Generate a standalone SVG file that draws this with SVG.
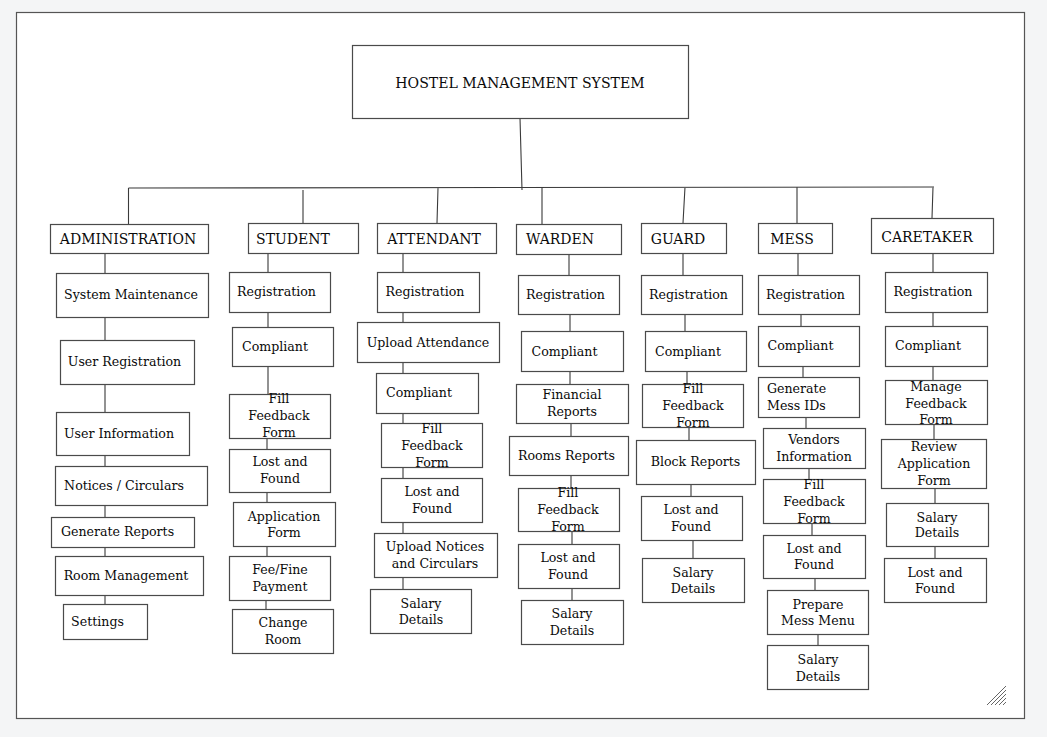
<svg xmlns="http://www.w3.org/2000/svg" width="1047" height="737" viewBox="0 0 1047 737">
<style>
.bx{fill:#fff;stroke:#4a4a4a;stroke-width:1.2}
.t{font-family:"DejaVu Serif","Liberation Serif",serif;font-size:12.6px;fill:#0a0a0a;text-anchor:middle}
.s{text-anchor:start}
.h{font-size:14px}
.ti{font-size:14.1px}
.ln{stroke:#3a3a3a;stroke-width:1.1;fill:none}
.hd{stroke:#666;stroke-width:1}
</style>
<rect x="0" y="0" width="1047" height="737" fill="#f4f5f6"/>
<rect x="16.5" y="12.5" width="1008" height="706" fill="#fff" stroke="#555" stroke-width="1.2"/>
<g id="connectors">
<path class="ln" d="M520 118 L522 190 M128.5 188 L934 187 M128.5 188 L128.5 224 M303 190 L303 223 M438 188 L437 223 M542 187 L542 224 M685 187 L683 223 M797 187 L797 223 M933 187 L932 218"/>
<path class="ln" d="M105 253 V273 M105 317 V340 M105 384 V412 M105 455 V466 M105 505 V517 M105 547 V556 M105 595 V604"/>
<path class="ln" d="M268 253 V272 M268 312 V327 M268 366 V394 M267 438 V449 M267 492 V502 M267 546 V556 M266 600 V609"/>
<path class="ln" d="M403 253 V272 M403 312 V322 M403 362 V373 M403 413 V423 M403 467 V478 M403 522 V533 M403 577 V589"/>
<path class="ln" d="M569 254 V275 M570 314 V331 M570 371 V384 M571 423 V436 M571 475 V488 M572 531 V544 M572 588 V600"/>
<path class="ln" d="M683 253 V275 M685 314 V331 M687 371 V384 M689 427 V440 M691 484 V496 M693 540 V558"/>
<path class="ln" d="M798 253 V275 M801 314 V326 M803 366 V377 M806 417 V428 M809 468 V479 M812 523 V535 M815 578 V590 M818 634 V645"/>
<path class="ln" d="M933 254 V272 M933 312 V326 M933 366 V380 M934 424 V439 M935 488 V503 M935 546 V558"/>
</g>
<g id="root"><rect class="bx" x="352.5" y="45.5" width="336" height="73"/><text class="t ti" x="520" y="88">HOSTEL MANAGEMENT SYSTEM</text></g>
<g id="administration"><rect class="bx" x="50.5" y="224.5" width="158" height="29"/><text class="t h" x="128" y="244">ADMINISTRATION</text></g>
<g id="student"><rect class="bx" x="248.5" y="223.5" width="110" height="30"/><text class="t h" x="293" y="244">STUDENT</text></g>
<g id="attendant"><rect class="bx" x="377.5" y="223.5" width="119" height="30"/><text class="t h" x="434" y="244">ATTENDANT</text></g>
<g id="warden"><rect class="bx" x="516.5" y="224.5" width="105" height="30"/><text class="t h" x="560" y="244">WARDEN</text></g>
<g id="guard"><rect class="bx" x="641.5" y="223.5" width="85" height="30"/><text class="t h" x="678" y="244">GUARD</text></g>
<g id="mess"><rect class="bx" x="758.5" y="223.5" width="74" height="30"/><text class="t h" x="792" y="244">MESS</text></g>
<g id="caretaker"><rect class="bx" x="871.5" y="218.5" width="122" height="35"/><text class="t h" x="927" y="242">CARETAKER</text></g>

<g id="adm-system-maintenance"><rect class="bx" x="56.5" y="273.5" width="152" height="44"/><text class="t" x="131" y="299">System Maintenance</text></g>
<g id="adm-user-registration"><rect class="bx" x="60.5" y="340.5" width="134" height="44"/><text class="t" x="124.5" y="366">User Registration</text></g>
<g id="adm-user-information"><rect class="bx" x="56.5" y="412.5" width="133" height="43"/><text class="t" x="119" y="438">User Information</text></g>
<g id="adm-notices"><rect class="bx" x="55.5" y="466.5" width="152" height="39"/><text class="t" x="124" y="490">Notices / Circulars</text></g>
<g id="adm-generate-reports"><rect class="bx" x="51.5" y="517.5" width="143" height="30"/><text class="t" x="117.5" y="536">Generate Reports</text></g>
<g id="adm-room-management"><rect class="bx" x="55.5" y="556.5" width="148" height="39"/><text class="t" x="126" y="580">Room Management</text></g>
<g id="adm-settings"><rect class="bx" x="63.5" y="604.5" width="84" height="35"/><text class="t" x="97.5" y="626">Settings</text></g>

<g id="stu-registration"><rect class="bx" x="229.5" y="272.5" width="101" height="40"/><text class="t" x="276.5" y="296">Registration</text></g>
<g id="stu-compliant"><rect class="bx" x="232.5" y="327.5" width="101" height="39"/><text class="t" x="275" y="351">Compliant</text></g>
<g id="stu-feedback"><rect class="bx" x="229.5" y="394.5" width="101" height="44"/><text class="t" x="279" y="403">Fill</text><text class="t" x="279" y="420">Feedback</text><text class="t" x="279" y="437">Form</text></g>
<g id="stu-lost-found"><rect class="bx" x="229.5" y="449.5" width="101" height="43"/><text class="t" x="280" y="466">Lost and</text><text class="t" x="280" y="483">Found</text></g>
<g id="stu-application"><rect class="bx" x="233.5" y="502.5" width="102" height="44"/><text class="t" x="284" y="521">Application</text><text class="t" x="284" y="537">Form</text></g>
<g id="stu-fee"><rect class="bx" x="229.5" y="556.5" width="101" height="44"/><text class="t" x="280" y="574">Fee/Fine</text><text class="t" x="280" y="591">Payment</text></g>
<g id="stu-change-room"><rect class="bx" x="232.5" y="609.5" width="101" height="44"/><text class="t" x="283" y="627">Change</text><text class="t" x="283" y="644">Room</text></g>

<g id="att-registration"><rect class="bx" x="377.5" y="272.5" width="102" height="40"/><text class="t" x="425" y="296">Registration</text></g>
<g id="att-upload-attendance"><rect class="bx" x="357.5" y="322.5" width="142" height="40"/><text class="t" x="428" y="347">Upload Attendance</text></g>
<g id="att-compliant"><rect class="bx" x="376.5" y="373.5" width="102" height="40"/><text class="t" x="419" y="397">Compliant</text></g>
<g id="att-feedback"><rect class="bx" x="381.5" y="423.5" width="101" height="44"/><text class="t" x="432" y="433">Fill</text><text class="t" x="432" y="450">Feedback</text><text class="t" x="432" y="467">Form</text></g>
<g id="att-lost-found"><rect class="bx" x="381.5" y="478.5" width="101" height="44"/><text class="t" x="432" y="496">Lost and</text><text class="t" x="432" y="513">Found</text></g>
<g id="att-upload-notices"><rect class="bx" x="374.5" y="533.5" width="123" height="44"/><text class="t" x="435" y="551">Upload Notices</text><text class="t" x="435" y="568">and Circulars</text></g>
<g id="att-salary"><rect class="bx" x="370.5" y="589.5" width="101" height="44"/><text class="t" x="421" y="608">Salary</text><text class="t" x="421" y="624">Details</text></g>

<g id="war-registration"><rect class="bx" x="518.5" y="275.5" width="101" height="39"/><text class="t" x="565.5" y="299">Registration</text></g>
<g id="war-compliant"><rect class="bx" x="521.5" y="331.5" width="102" height="40"/><text class="t" x="564.5" y="356">Compliant</text></g>
<g id="war-financial"><rect class="bx" x="516.5" y="384.5" width="112" height="39"/><text class="t" x="572" y="399">Financial</text><text class="t" x="572" y="416">Reports</text></g>
<g id="war-rooms-reports"><rect class="bx" x="509.5" y="436.5" width="119" height="39"/><text class="t" x="566.5" y="460">Rooms Reports</text></g>
<g id="war-feedback"><rect class="bx" x="518.5" y="488.5" width="101" height="43"/><text class="t" x="568" y="497">Fill</text><text class="t" x="568" y="514">Feedback</text><text class="t" x="568" y="531">Form</text></g>
<g id="war-lost-found"><rect class="bx" x="518.5" y="544.5" width="101" height="44"/><text class="t" x="568" y="562">Lost and</text><text class="t" x="568" y="579">Found</text></g>
<g id="war-salary"><rect class="bx" x="521.5" y="600.5" width="102" height="44"/><text class="t" x="572" y="618">Salary</text><text class="t" x="572" y="635">Details</text></g>

<g id="gua-registration"><rect class="bx" x="641.5" y="275.5" width="101" height="39"/><text class="t" x="688.5" y="299">Registration</text></g>
<g id="gua-compliant"><rect class="bx" x="645.5" y="331.5" width="101" height="40"/><text class="t" x="688" y="356">Compliant</text></g>
<g id="gua-feedback"><rect class="bx" x="642.5" y="384.5" width="101" height="43"/><text class="t" x="693" y="393">Fill</text><text class="t" x="693" y="410">Feedback</text><text class="t" x="693" y="427">Form</text></g>
<g id="gua-block-reports"><rect class="bx" x="636.5" y="440.5" width="119" height="44"/><text class="t" x="695.5" y="466">Block Reports</text></g>
<g id="gua-lost-found"><rect class="bx" x="641.5" y="496.5" width="101" height="44"/><text class="t" x="691" y="514">Lost and</text><text class="t" x="691" y="531">Found</text></g>
<g id="gua-salary"><rect class="bx" x="642.5" y="558.5" width="102" height="44"/><text class="t" x="693" y="577">Salary</text><text class="t" x="693" y="593">Details</text></g>

<g id="mes-registration"><rect class="bx" x="758.5" y="275.5" width="101" height="39"/><text class="t" x="805.5" y="299">Registration</text></g>
<g id="mes-compliant"><rect class="bx" x="758.5" y="326.5" width="101" height="40"/><text class="t" x="800.5" y="350">Compliant</text></g>
<g id="mes-generate-ids"><rect class="bx" x="758.5" y="377.5" width="101" height="40"/><text class="t s" x="767" y="393">Generate</text><text class="t s" x="767" y="410">Mess IDs</text></g>
<g id="mes-vendors"><rect class="bx" x="763.5" y="428.5" width="102" height="40"/><text class="t" x="814" y="444">Vendors</text><text class="t" x="814" y="461">Information</text></g>
<g id="mes-feedback"><rect class="bx" x="763.5" y="479.5" width="102" height="44"/><text class="t" x="814" y="489">Fill</text><text class="t" x="814" y="506">Feedback</text><text class="t" x="814" y="523">Form</text></g>
<g id="mes-lost-found"><rect class="bx" x="763.5" y="535.5" width="102" height="43"/><text class="t" x="814" y="553">Lost and</text><text class="t" x="814" y="569">Found</text></g>
<g id="mes-menu"><rect class="bx" x="767.5" y="590.5" width="101" height="44"/><text class="t" x="818" y="609">Prepare</text><text class="t" x="818" y="625">Mess Menu</text></g>
<g id="mes-salary"><rect class="bx" x="767.5" y="645.5" width="101" height="44"/><text class="t" x="818" y="664">Salary</text><text class="t" x="818" y="681">Details</text></g>

<g id="car-registration"><rect class="bx" x="885.5" y="272.5" width="102" height="40"/><text class="t" x="933" y="296">Registration</text></g>
<g id="car-compliant"><rect class="bx" x="885.5" y="326.5" width="102" height="40"/><text class="t" x="928" y="350">Compliant</text></g>
<g id="car-manage-feedback"><rect class="bx" x="885.5" y="380.5" width="102" height="44"/><text class="t" x="936" y="391">Manage</text><text class="t" x="936" y="408">Feedback</text><text class="t" x="936" y="424">Form</text></g>
<g id="car-review"><rect class="bx" x="881.5" y="439.5" width="105" height="49"/><text class="t" x="934" y="451">Review</text><text class="t" x="934" y="468">Application</text><text class="t" x="934" y="485">Form</text></g>
<g id="car-salary"><rect class="bx" x="886.5" y="503.5" width="102" height="43"/><text class="t" x="937" y="522">Salary</text><text class="t" x="937" y="537">Details</text></g>
<g id="car-lost-found"><rect class="bx" x="884.5" y="558.5" width="102" height="44"/><text class="t" x="935" y="577">Lost and</text><text class="t" x="935" y="593">Found</text></g>

<g id="resize-handle">
<path class="hd" d="M987 705 L1006 686 M991 705 L1006 690 M995 705 L1006 694 M999 705 L1006 698 M1003 705 L1006 702"/>
</g>
</svg>
